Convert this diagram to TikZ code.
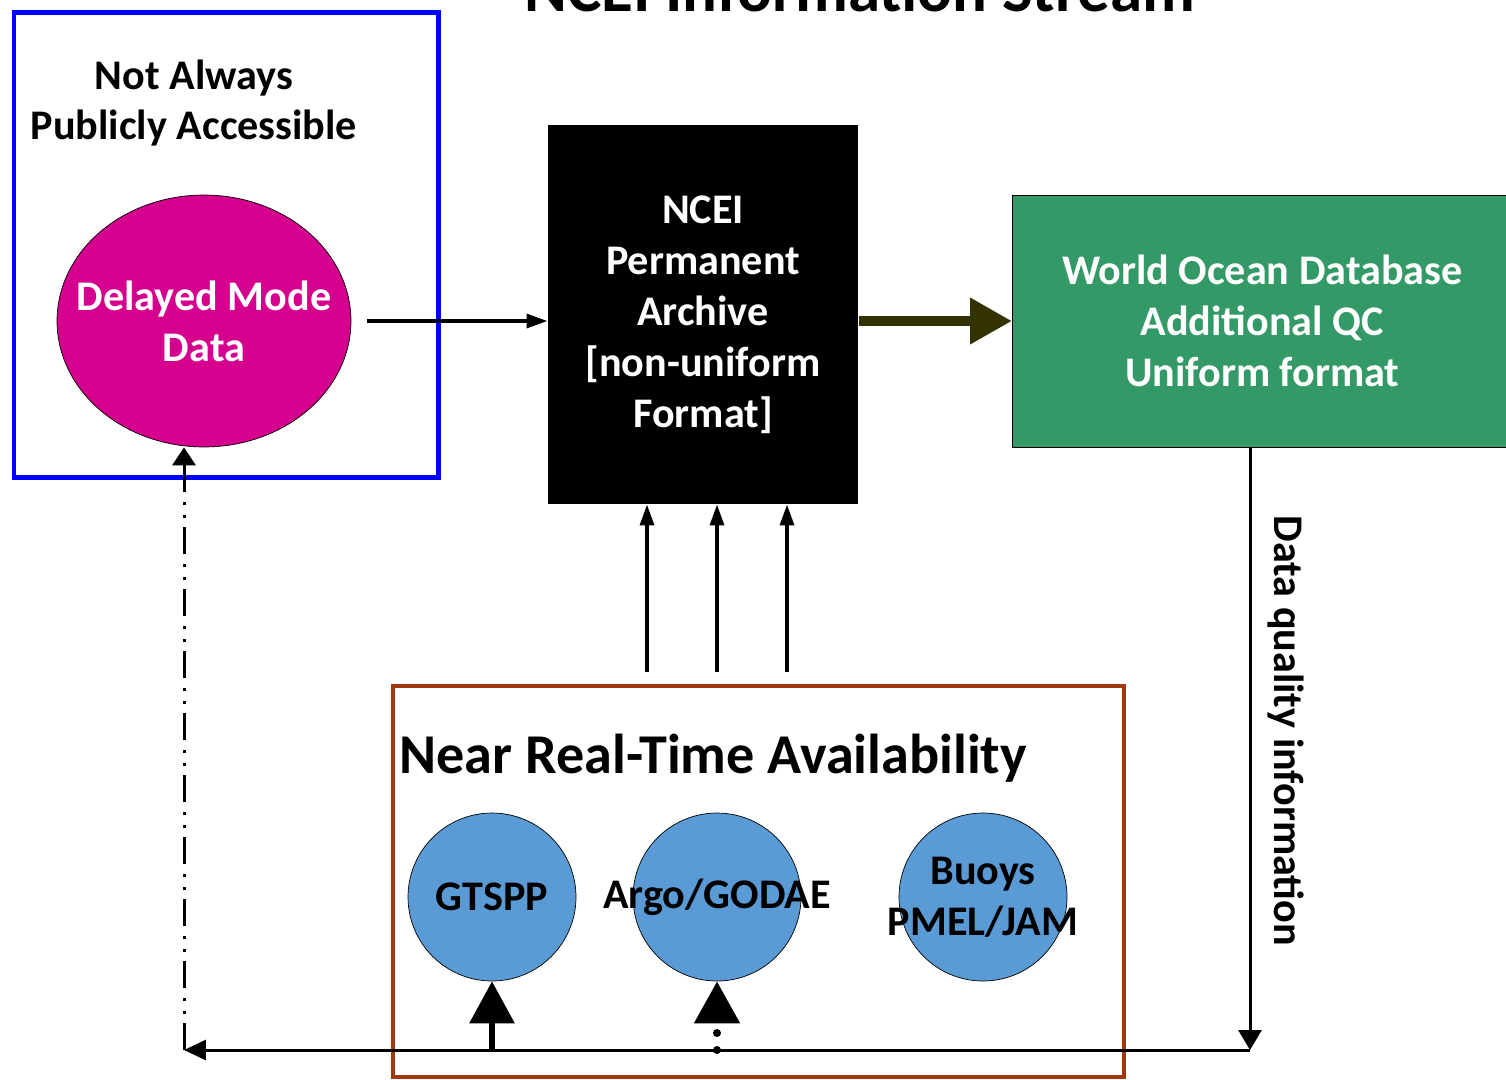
\documentclass[tikz,border=0pt]{standalone}
\usepackage{fontspec}
\setmainfont{Carlito}
\usepackage{xcolor}
\usetikzlibrary{arrows.meta,calc,positioning,shapes.geometric}
\definecolor{boxblue}{RGB}{0,0,255}
\definecolor{dmmagenta}{RGB}{214,0,143}
\definecolor{wodgreen}{RGB}{51,153,102}
\definecolor{nrtbrown}{RGB}{160,56,16}
\definecolor{srcblue}{RGB}{91,155,213}
\definecolor{darkolive}{RGB}{51,51,0}

\begin{document}
\begin{tikzpicture}[x=0.02cm,y=-0.02cm,semithick,
  every node/.style={font=\fontsize{24}{29}\selectfont\bfseries, align=center},
  src/.style={circle, draw=black, thin, fill=srcblue, minimum size=3.36cm, inner sep=0pt},
  small/.style={-{Triangle[length=0.42cm,width=0.28cm]}, line width=0.07cm},
  big/.style={-{Triangle[length=0.84cm,width=0.88cm]}}]
 \useasboundingbox (0,0) rectangle (1506,1079);
	\node[anchor=base, font=\fontsize{37}{44}\selectfont\bfseries] (title) at (860,11) {NCEI Information Stream};
	% left: delayed mode
	\draw[boxblue, line width=0.1cm] (14,12) rectangle (438,477);
	\node (napa) at (194,103) {Not Always\\Publicly Accessible};
	\node[ellipse, draw=black, thin, fill=dmmagenta, text=white, inner sep=0pt, minimum width=5.88cm, minimum height=5.04cm] (dm) at (204,321) {\makebox[0pt]{Delayed Mode}\\\makebox[0pt]{Data}};
	% archive and database
	\node[fill=black, text=white, minimum width=6.2cm, minimum height=7.58cm] (arch) at (703,314.5) {NCEI\\Permanent\\Archive\\{[non-uniform}\\Format]};
	\node[draw=black, thin, fill=wodgreen, text=white, minimum width=10cm, minimum height=5.04cm, anchor=west] (wod) at (1012,321) {World Ocean Database\\Additional QC\\Uniform format};
	% near real-time
	\draw[nrtbrown, line width=0.08cm] (393,686) rectangle (1124,1077);
	\node[anchor=west, font=\fontsize{32}{38}\selectfont\bfseries, inner sep=0pt] (nrt) at (399,758) {Near Real-Time Availability};
	\node[src] (gtspp) at (492,897) {GTSPP};
	\node[src] (argo) at (717,897) {\makebox[0pt]{Argo/GODAE}};
	\node[src] (buoys) at (983,897) {\makebox[0pt]{Buoys}\\\makebox[0pt]{PMEL/JAM}};
	% connectors
	\draw[small] ($(dm.east)+(16,0)$) -- (arch.west |- dm);
	\draw[big, darkolive, line width=0.2cm] (arch.east |- dm) -- (wod.west);
	\foreach \x [count=\i] in {647,717,787}{
		\coordinate (up\i) at (\x,672);
		\draw[small] (up\i) -- (arch.south -| up\i);
	}
	\coordinate (cR) at (1250,1050);
	\coordinate (cL) at (184,1050);
	\draw[-{Triangle[length=0.4cm,width=0.46cm]}, line width=0.06cm] (wod.south -| cR) -- (cR)
		node[pos=0.47, right=0.2cm, rotate=-90, anchor=south] (dqi) {Data quality information};
	\draw[-{Triangle[length=0.44cm,width=0.4cm]}, line width=0.06cm] (cR) -- (cL);
	\draw[-{Triangle[length=0.36cm,width=0.46cm]}, line width=0.06cm,
		dash pattern=on 0.54cm off 0.18cm on 0.06cm off 0.2cm on 0.06cm off 0.2cm] (cL) -- (dm.south -| cL);
	\draw[big, line width=0.12cm] (gtspp.south |- cR) -- (gtspp.south);
	\draw[big, line width=0.16cm, line cap=round, dash pattern=on 0pt off 0.34cm] (argo.south |- cR) -- (argo.south);
\end{tikzpicture}
\end{document}
